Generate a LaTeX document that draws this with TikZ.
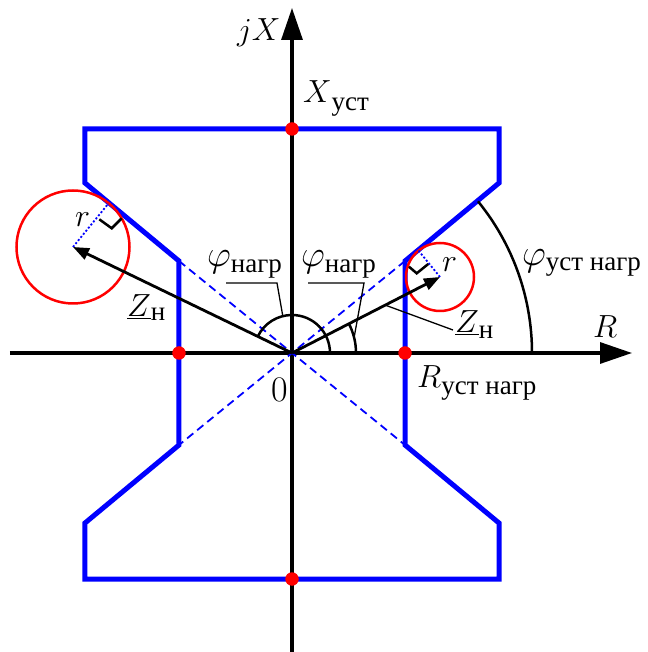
\RequirePackage{fix-cm}
\documentclass[tikz,border=0pt]{standalone}
\usepackage{fontspec}
\newfontfamily\cyr{Liberation Serif}
\usetikzlibrary{arrows.meta,calc}
\newcommand{\cyrsub}[2][7pt]{\raisebox{-#1}{\fontsize{27}{30}\selectfont\cyr #2}}
\newcommand{\bigphi}{{\fontsize{37}{40}\selectfont$\varphi$}}
\begin{document}
\begin{tikzpicture}[x=1pt,y=1pt,
  axis/.style={line width=3.2pt,-{Triangle[length=32pt,width=21pt]}},
  zone/.style={blue,line width=5pt,line join=miter},
  diag/.style={blue,line width=1.8pt,dash pattern=on 8pt off 5pt},
  perp/.style={blue,line width=1.8pt,dash pattern=on 2pt off 2pt},
  circ/.style={red,line width=2.5pt},
  rdot/.style={circle,fill=red,inner sep=0pt,minimum size=13.5pt},
  zarrow/.style={line width=2.8pt,-{Triangle[length=16pt,width=12pt]}},
  angarc/.style={line width=2.5pt},
  leader/.style={line width=1.3pt},
  rmark/.style={line width=2.5pt},
  lbl/.style={inner sep=0pt,anchor=base west,font=\fontsize{32}{38}\selectfont},
]
\useasboundingbox (-292,-299) rectangle (355,353);
% coordinates
\coordinate (O) at (0,0);
\coordinate (xl) at (-282,0);
\coordinate (xr) at (340,0);
\coordinate (yb) at (0,-299);
\coordinate (yt) at (0,345);
\coordinate (T1) at (-207,224);
\coordinate (T2) at (207,224);
\coordinate (A) at (207,170);
\coordinate (B) at (113,92);
\coordinate (C) at (113,-92);
\coordinate (D) at (207,-170);
\coordinate (E) at (207,-226);
\coordinate (F) at (-207,-226);
\coordinate (G) at (-207,-170);
\coordinate (H) at (-113,-92);
\coordinate (I) at (-113,92);
\coordinate (J) at (-207,170);
\coordinate (cR) at (148,76);
\coordinate (cL) at (-219,106);
% axes
\draw[axis] (xl) -- (xr);
\draw[axis] (yb) -- (yt);
% dashed diagonals
\draw[diag] (B) -- (H);
\draw[diag] (I) -- (C);
% zone
\draw[zone] (T1) -- (T2) -- (A) -- (B) -- (C) -- (D) -- (E) -- (F) -- (G) -- (H) -- (I) -- (J) -- cycle;
% angle arcs
\draw[angarc] (240,0) arc[start angle=0,end angle=39.2,radius=240];
\draw[angarc] (64,0) arc[start angle=0,end angle=27.2,radius=64];
\draw[angarc] (38,0) arc[start angle=0,end angle=154.2,radius=38];
% circles
\draw[circ] (cR) circle[radius=34];
\draw[circ] (cL) circle[radius=56.5];
% perpendiculars
\coordinate (fR) at ($(O)!(cR)!(B)$);
\coordinate (fL) at ($(O)!(cL)!(I)$);
\draw[perp] (cR) -- (fR);
\draw[perp] (cL) -- (fL);
% right angle marks
\coordinate (mL1) at (-192.7,133.7);
\coordinate (mL2) at (-180.3,124.7);
\coordinate (mL3) at (-170.3,134.7);
\coordinate (mR1) at (117,86.3);
\coordinate (mR2) at (124.7,79.7);
\coordinate (mR3) at (136.3,89);
\draw[rmark] (mL1) -- (mL2) -- (mL3);
\draw[rmark] (mR1) -- (mR2) -- (mR3);
% Z arrows
\draw[zarrow] (O) -- (cR);
\draw[zarrow] (O) -- (cL);
% red dots
\node[rdot] (d1) at (0,224) {};
\node[rdot] (d2) at (-113,0) {};
\node[rdot] (d3) at (113,0) {};
\node[rdot] (d4) at (0,-226) {};
% labels
\node[lbl] (ljx) at (-55,312) {$jX$};
\node[lbl] (lxu) at (11,250) {$X$\cyrsub[8pt]{уст}};
\node[lbl] (lR) at (301,15) {$R$};
\node[lbl] (lRu) at (125,-35) {$R$\cyrsub{уст нагр}};
\node[inner sep=0pt,font=\fontsize{36}{40}\selectfont] (l0) at (-12,-37) {0};
\node[lbl] (lphu) at (230,87) {\bigphi\cyrsub[5pt]{уст нагр}};
\node[lbl] (lphl) at (-85,86) {\bigphi\cyrsub[6pt]{нагр}};
\node[lbl] (lphr) at (9,86) {\bigphi\cyrsub[6pt]{нагр}};
\node[lbl] (lzl) at (-165,36) {$\underline{Z}$\cyrsub[4pt]{н}};
\node[lbl] (lzr) at (163,20) {$\underline{Z}$\cyrsub[6pt]{н}};
\node[lbl] (lrl) at (-217,126) {$r$};
\node[lbl] (lrr) at (150,81) {$r$};
% leaders
\coordinate (pl1) at (-66,70);
\coordinate (pl2) at (-15,70);
\coordinate (pl3) at (104:38);
\coordinate (pr1) at (16,70);
\coordinate (pr2) at (72,70);
\coordinate (pr3) at (14:64);
\draw[leader] (pl1) -- (pl2) -- (pl3);
\draw[leader] (pr1) -- (pr2) -- (pr3);
\coordinate (zr1) at ($(O)!0.63!(cR)$);
\coordinate (zr2) at (161,23);
\draw[leader] (zr1) -- (zr2);
\end{tikzpicture}
\end{document}
